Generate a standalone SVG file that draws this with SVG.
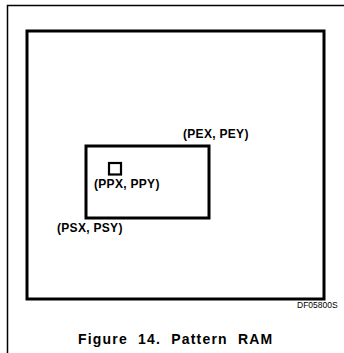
<svg xmlns="http://www.w3.org/2000/svg" width="344" height="353" viewBox="0 0 344 353">
<style>
.frame{fill:none;stroke:#000;stroke-width:1.5}
.box{fill:none;stroke:#000;stroke-width:3}
.lbl{font-family:"Liberation Sans",Arial,sans-serif;font-weight:bold;font-size:12px;letter-spacing:0.3px;fill:#000}
.cap{font-family:"Liberation Sans",Arial,sans-serif;font-weight:bold;font-size:14px;letter-spacing:1.2px;word-spacing:5px;fill:#000}
.id{font-family:"Liberation Sans",Arial,sans-serif;font-size:8.5px;fill:#000}
</style>
<rect width="344" height="353" fill="#fff"/>
<polyline class="frame" points="7.5,353 7.5,5.5 344,5.5"/>
<g id="screen">
<rect class="box" x="27" y="31" width="297" height="268"/>
</g>
<g id="pattern-area">
<rect class="box" x="86" y="146" width="123" height="72"/>
<text class="lbl" x="183" y="138">(PEX, PEY)</text>
<text class="lbl" x="57" y="232">(PSX, PSY)</text>
</g>
<g id="pattern-pixel">
<rect x="109" y="163" width="12" height="11.5" fill="none" stroke="#000" stroke-width="2.2"/>
<text class="lbl" x="94" y="188">(PPX, PPY)</text>
</g>
<g id="connectors"/>
<text class="id" x="297" y="308">DF05800S</text>
<text class="cap" x="78" y="344">Figure 14. Pattern RAM</text>
</svg>
